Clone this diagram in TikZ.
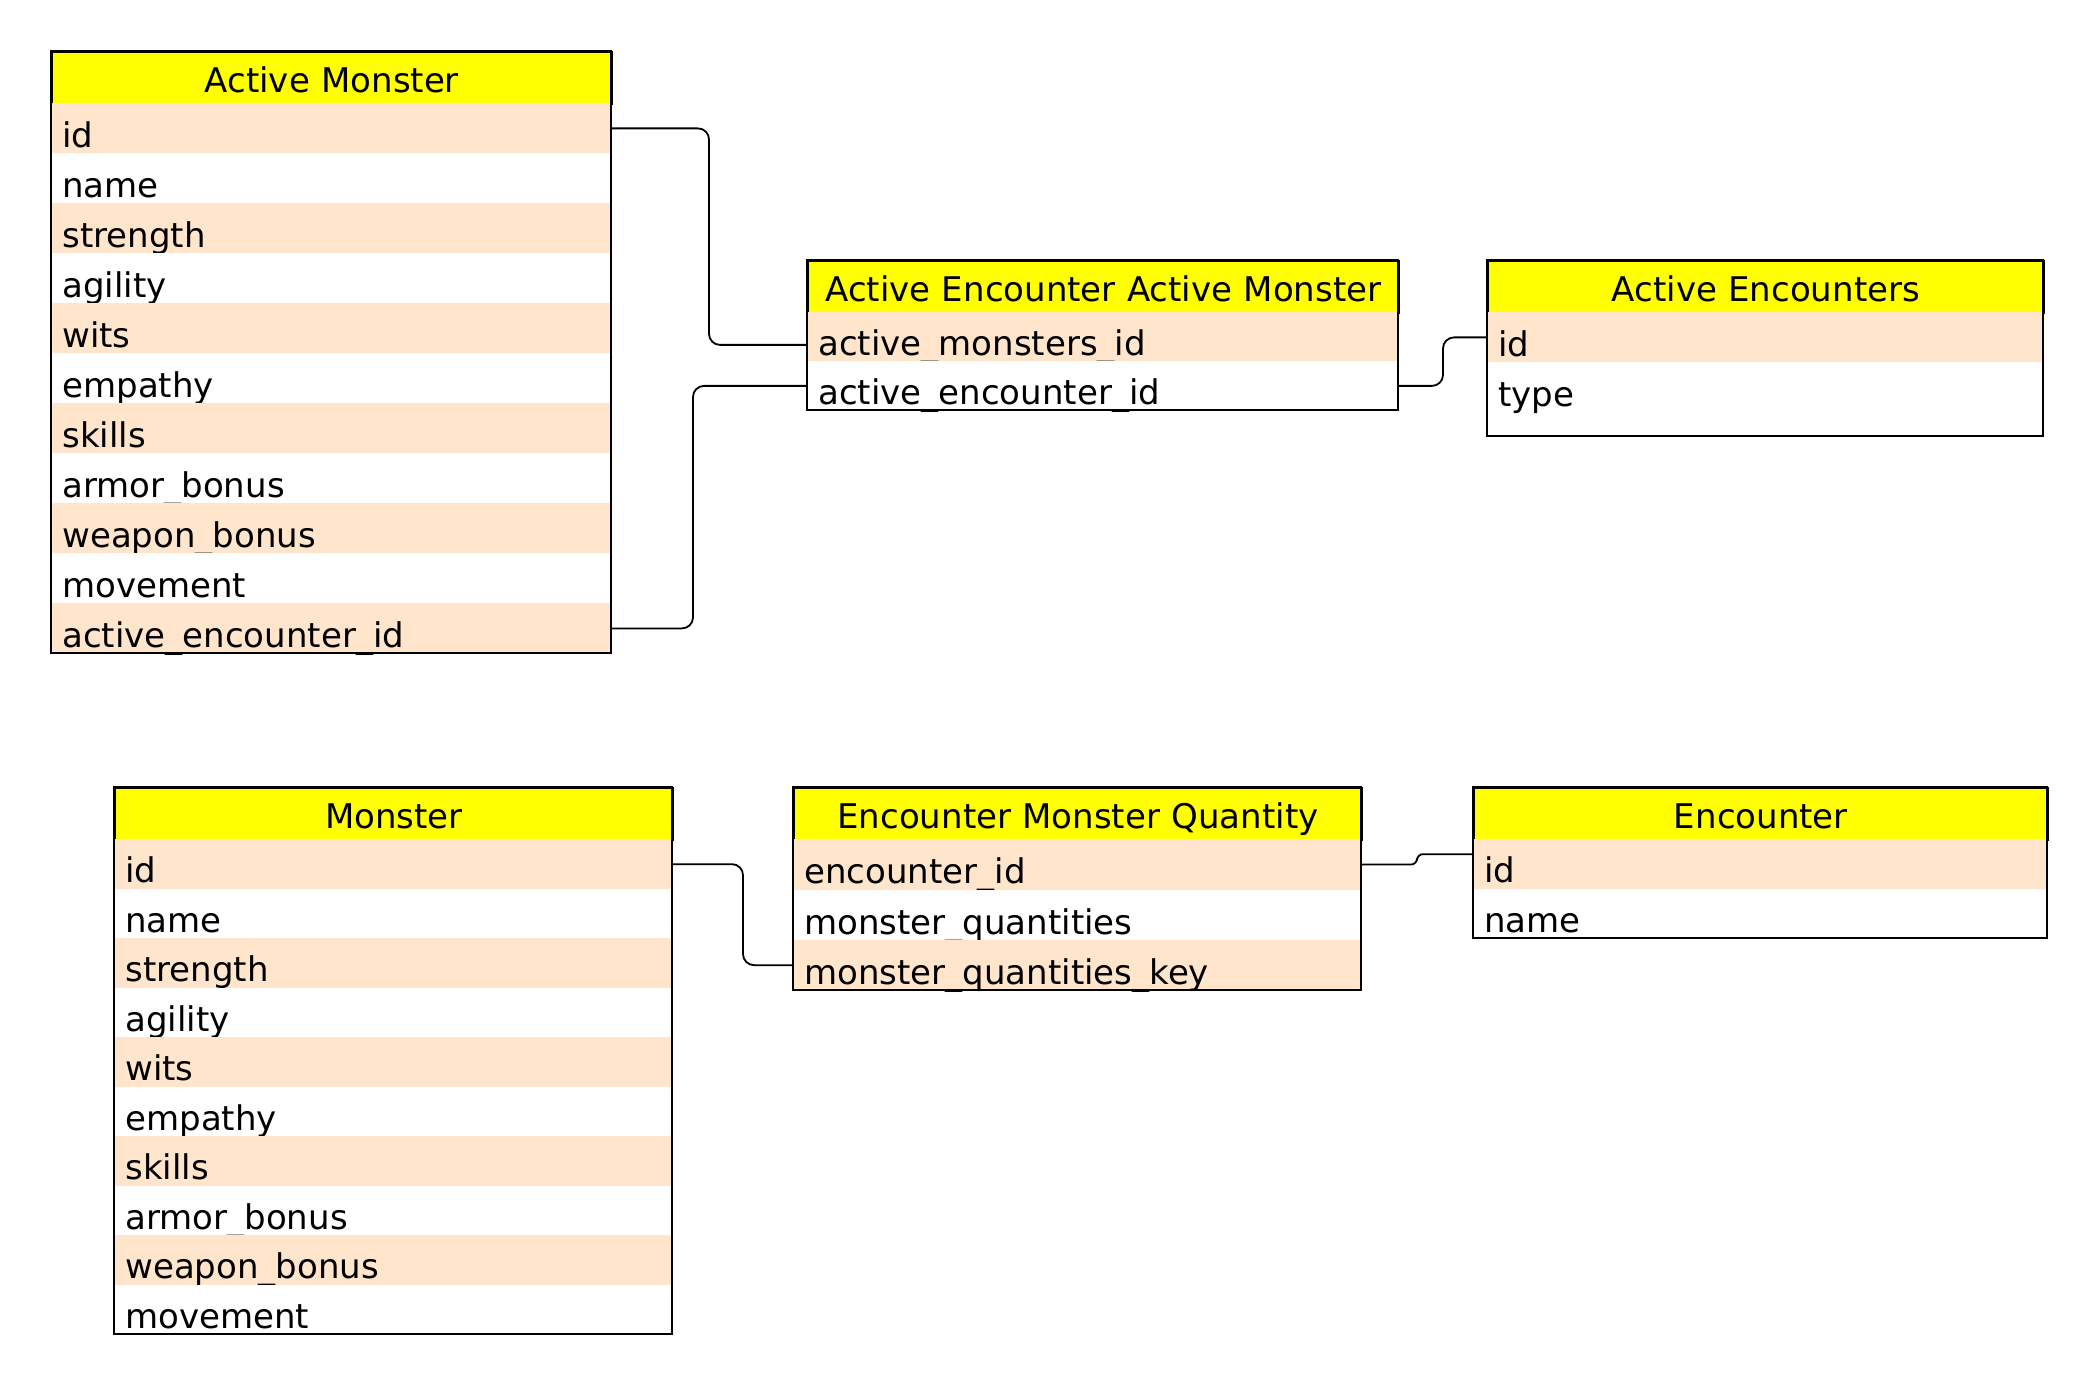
\documentclass[tikz,border=0pt]{standalone}
\usepackage{fontspec}
\setmainfont{DejaVu Sans}
\definecolor{hdr}{HTML}{FFFF00}
\definecolor{shade}{HTML}{FFE5CC}
\tikzset{
  tfont/.style={font=\fontsize{17}{20}\selectfont},
  hdrbox/.style={tfont, draw=black, line width=0.9pt, fill=hdr, anchor=north west,
    inner xsep=0pt, inner ysep=0pt, align=center, text height=20.5pt, text depth=5.5pt},
  rowbox/.style={tfont, anchor=north west, inner xsep=5.5pt, inner ysep=0pt,
    align=left, text depth=3pt},
  outline/.style={draw=black, line width=0.9pt},
  conn/.style={draw=black, line width=0.9pt, rounded corners=5.5pt},
}
\newcommand\tabstart[4]{%
  \xdef\tx{#1}\xdef\ty{#2}\xdef\tys{#2}\xdef\tw{#3}\xdef\trh{#4}%
  \pgfmathsetlengthmacro\tmpa{#3*0.5pt}\xdef\twpt{\tmpa}%
  \pgfmathsetlengthmacro\tmpa{(#3-22)*0.5pt}\xdef\rowtw{\tmpa}%
  \pgfmathsetlengthmacro\tmpa{(#4-6)*0.5pt}\xdef\rowth{\tmpa}%
}
\newcommand\tabhead[2]{%
  \node[hdrbox, text width=\twpt] (#1) at (\tx,\ty) {#2};
  \pgfmathsetmacro\tmpa{\ty+52}\xdef\ty{\tmpa}%
}
\newcommand\tabrow[3]{%
  \node[rowbox, fill=#2, text width=\rowtw, text height=\rowth] (#1) at (\tx,\ty) {#3};
  \pgfmathsetmacro\tmpa{\ty+\trh}\xdef\ty{\tmpa}%
}
\newcommand\tabend[1]{%
  \pgfmathsetmacro\tmpa{\tx+\tw}\pgfmathsetmacro\tmpb{\ty+#1}%
  \draw[outline] (\tx,\tys) rectangle (\tmpa,\tmpb);
}
\begin{document}
\begin{tikzpicture}[x=0.5pt,y=-0.5pt]
\useasboundingbox (0,0) rectangle (2098,1390);

% Active Monster
\tabstart{51}{51}{560}{50}
\tabhead{am}{Active Monster}
\tabrow{am-id}{shade}{id}
\tabrow{am-name}{white}{name}
\tabrow{am-str}{shade}{strength}
\tabrow{am-agi}{white}{agility}
\tabrow{am-wits}{shade}{wits}
\tabrow{am-emp}{white}{empathy}
\tabrow{am-skl}{shade}{skills}
\tabrow{am-arm}{white}{armor\_bonus}
\tabrow{am-wpn}{shade}{weapon\_bonus}
\tabrow{am-mov}{white}{movement}
\tabrow{am-aeid}{shade}{active\_encounter\_id}
\tabend{0}

% Active Encounter Active Monster
\tabstart{807}{260}{591}{49}
\tabhead{aeam}{Active Encounter Active Monster}
\tabrow{aeam-amid}{shade}{active\_monsters\_id}
\tabrow{aeam-aeid}{white}{active\_encounter\_id}
\tabend{0}

% Active Encounters
\tabstart{1487}{260}{556}{50}
\tabhead{ae}{Active Encounters}
\tabrow{ae-id}{shade}{id}
\tabrow{ae-type}{white}{type}
\tabend{24}

% Monster
\tabstart{114}{787}{558}{49.5}
\tabhead{m}{Monster}
\tabrow{m-id}{shade}{id}
\tabrow{m-name}{white}{name}
\tabrow{m-str}{shade}{strength}
\tabrow{m-agi}{white}{agility}
\tabrow{m-wits}{shade}{wits}
\tabrow{m-emp}{white}{empathy}
\tabrow{m-skl}{shade}{skills}
\tabrow{m-arm}{white}{armor\_bonus}
\tabrow{m-wpn}{shade}{weapon\_bonus}
\tabrow{m-mov}{white}{movement}
\tabend{0}

% Encounter Monster Quantity
\tabstart{793}{787}{568}{50.3}
\tabhead{emq}{Encounter Monster Quantity}
\tabrow{emq-eid}{shade}{encounter\_id}
\tabrow{emq-mq}{white}{monster\_quantities}
\tabrow{emq-mqk}{shade}{monster\_quantities\_key}
\tabend{0}

% Encounter
\tabstart{1473}{787}{574}{49.5}
\tabhead{enc}{Encounter}
\tabrow{enc-id}{shade}{id}
\tabrow{enc-name}{white}{name}
\tabend{0}

% connectors
\coordinate (c1) at (709,0);
\coordinate (c2) at (693,0);
\coordinate (c3) at (1443,0);
\coordinate (c4) at (743,0);
\coordinate (c5) at (1417,0);
\coordinate (aeam-amidp) at ([yshift=-4pt]aeam-amid.west);
\coordinate (enc-idp) at ([yshift=5pt]enc-id.west);
\draw[conn] (am-id.east) -| (c1 |- aeam-amidp) -- (aeam-amidp);
\draw[conn] (am-aeid.east) -| (c2 |- aeam-aeid.west) -- (aeam-aeid.west);
\draw[conn] (aeam-aeid.east) -| (c3 |- ae-id.west) -- (ae-id.west);
\draw[conn] (m-id.east) -| (c4 |- emq-mqk.west) -- (emq-mqk.west);
\draw[conn, rounded corners=3pt] (emq-eid.east) -| (c5 |- enc-idp) -- (enc-idp);
\end{tikzpicture}
\end{document}
